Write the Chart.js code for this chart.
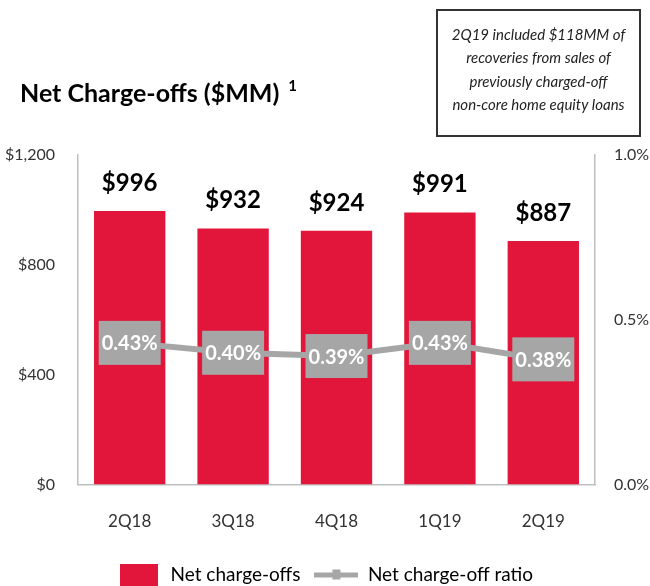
<!DOCTYPE html>
<html>
<head>
<meta charset="utf-8">
<script src="https://cdn.jsdelivr.net/npm/chart.js@4/dist/chart.umd.min.js"></script>
<style>
  html, body { margin: 0; padding: 0; background: #fff; }
  .chart-wrap { width: 650px; height: 586px; position: relative; }
</style>
</head>
<body>
<div class="chart-wrap"><canvas id="myChart" width="650" height="586"></canvas></div>
<script>
// chart data
const quarters = ["2Q18", "3Q18", "4Q18", "1Q19", "2Q19"];
const netChargeOffs = [996, 932, 924, 991, 887];
const chargeOffRatio = [0.43, 0.40, 0.39, 0.43, 0.38];
const leftTicks = [0, 400, 800, 1200];
const rightTicks = [0, 0.5, 1.0];
const titleText = "Net Charge-offs ($MM)";
const noteLines = [
  "2Q19 included $118MM of",
  "recoveries from sales of",
  "previously charged-off",
  "non-core home equity loans",
];

const red = "#e1163a";
const gray = "#a6a6a6";
const font = "Lato, 'Liberation Sans', sans-serif";

// little pictures for the legend
function legendBox() {
  let c = document.createElement("canvas");
  c.width = 40;
  c.height = 22;
  let ctx = c.getContext("2d");
  ctx.fillStyle = red;
  ctx.fillRect(1, 0, 38, 22);
  return c;
}
function legendLine() {
  let c = document.createElement("canvas");
  c.width = 44;
  c.height = 12;
  let ctx = c.getContext("2d");
  ctx.fillStyle = gray;
  ctx.fillRect(0, 4, 44, 5);
  ctx.fillRect(18, 1, 8, 10);
  return c;
}

// title, note box and value labels
const extras = {
  id: "extras",
  afterDatasetsDraw(chart) {
    const ctx = chart.ctx;
    ctx.save();

    // title
    ctx.fillStyle = "#000";
    ctx.textBaseline = "middle";
    ctx.textAlign = "left";
    ctx.font = "bold 25px " + font;
    ctx.fillText(titleText, 20, 94);
    let w = ctx.measureText(titleText).width;
    ctx.font = "bold 15px " + font;
    ctx.fillText("1", 20 + w + 9, 86);

    // note box
    ctx.fillStyle = "#fff";
    ctx.fillRect(437, 10, 203, 126);
    ctx.strokeStyle = "#333";
    ctx.lineWidth = 2;
    ctx.strokeRect(437, 10, 203, 126);
    ctx.fillStyle = "#222";
    ctx.textAlign = "center";
    ctx.font = "italic 15px " + font;
    noteLines.forEach((line, i) => {
      ctx.fillText(line, 538.5, 35 + i * 23.5);
    });

    // bar values
    let barMeta = chart.getDatasetMeta(0);
    ctx.fillStyle = "#000";
    ctx.font = "bold 24px " + font;
    ctx.textBaseline = "bottom";
    barMeta.data.forEach((bar, i) => {
      ctx.fillText("$" + netChargeOffs[i], bar.x, bar.y - 16);
    });

    // ratio labels
    let lineMeta = chart.getDatasetMeta(1);
    ctx.textBaseline = "middle";
    ctx.font = "bold 20px " + font;
    lineMeta.data.forEach((pt, i) => {
      ctx.fillStyle = gray;
      ctx.fillRect(pt.x - 31, pt.y - 22, 62, 44);
      ctx.fillStyle = "#fff";
      ctx.fillText(chargeOffRatio[i].toFixed(2) + "%", pt.x, pt.y + 1);
    });

    ctx.restore();
  },
};

const data = {
  labels: quarters,
  datasets: [
    {
      type: "bar",
      label: "Net charge-offs",
      data: netChargeOffs,
      backgroundColor: red,
      yAxisID: "y",
      barPercentage: 0.69,
      categoryPercentage: 1,
      order: 2,
    },
    {
      type: "line",
      label: "Net charge-off ratio",
      data: chargeOffRatio,
      borderColor: gray,
      backgroundColor: gray,
      borderWidth: 6,
      pointRadius: 0,
      yAxisID: "y1",
      order: 1,
    },
  ],
};

const config = {
  data: data,
  plugins: [extras],
  options: {
    responsive: false,
    animation: false,
    layout: { padding: { top: 155, left: 0, right: 0, bottom: -8 } },
    plugins: {
      tooltip: { enabled: false },
      legend: {
        position: "bottom",
        labels: {
          usePointStyle: true,
          pointStyleWidth: 44,
          boxHeight: 22,
          padding: 14,
          color: "#000",
          font: { family: font, size: 19 },
          sort: (a, b) => a.datasetIndex - b.datasetIndex,
          generateLabels(chart) {
            let items = Chart.defaults.plugins.legend.labels.generateLabels(chart);
            items.forEach((item) => {
              item.pointStyle = item.datasetIndex === 0 ? legendBox() : legendLine();
            });
            return items;
          },
        },
      },
    },
    scales: {
      x: {
        grid: { display: false },
        border: { color: "#bfbfbf", width: 1.5 },
        ticks: { color: "#333", padding: 19, font: { family: font, size: 17 } },
      },
      y: {
        position: "left",
        min: 0,
        max: 1200,
        afterBuildTicks(scale) {
          scale.ticks = leftTicks.map((v) => ({ value: v }));
        },
        afterFit(scale) {
          scale.width = 78;
        },
        grid: { display: false },
        border: { color: "#bfbfbf", width: 1.5 },
        ticks: {
          color: "#333",
          padding: 15,
          font: { family: font, size: 16 },
          callback: (v) => "$" + v.toLocaleString("en-US"),
        },
      },
      y1: {
        position: "right",
        min: 0,
        max: 1.0,
        afterBuildTicks(scale) {
          scale.ticks = rightTicks.map((v) => ({ value: v }));
        },
        afterFit(scale) {
          scale.width = 55;
        },
        grid: { display: false },
        border: { color: "#bfbfbf", width: 1.5 },
        ticks: {
          color: "#333",
          padding: 11,
          font: { family: font, size: 16 },
          callback: (v) => v.toFixed(1) + "%",
        },
      },
    },
  },
};

const myChart = new Chart(document.getElementById("myChart"), config);
</script>
</body>
</html>
